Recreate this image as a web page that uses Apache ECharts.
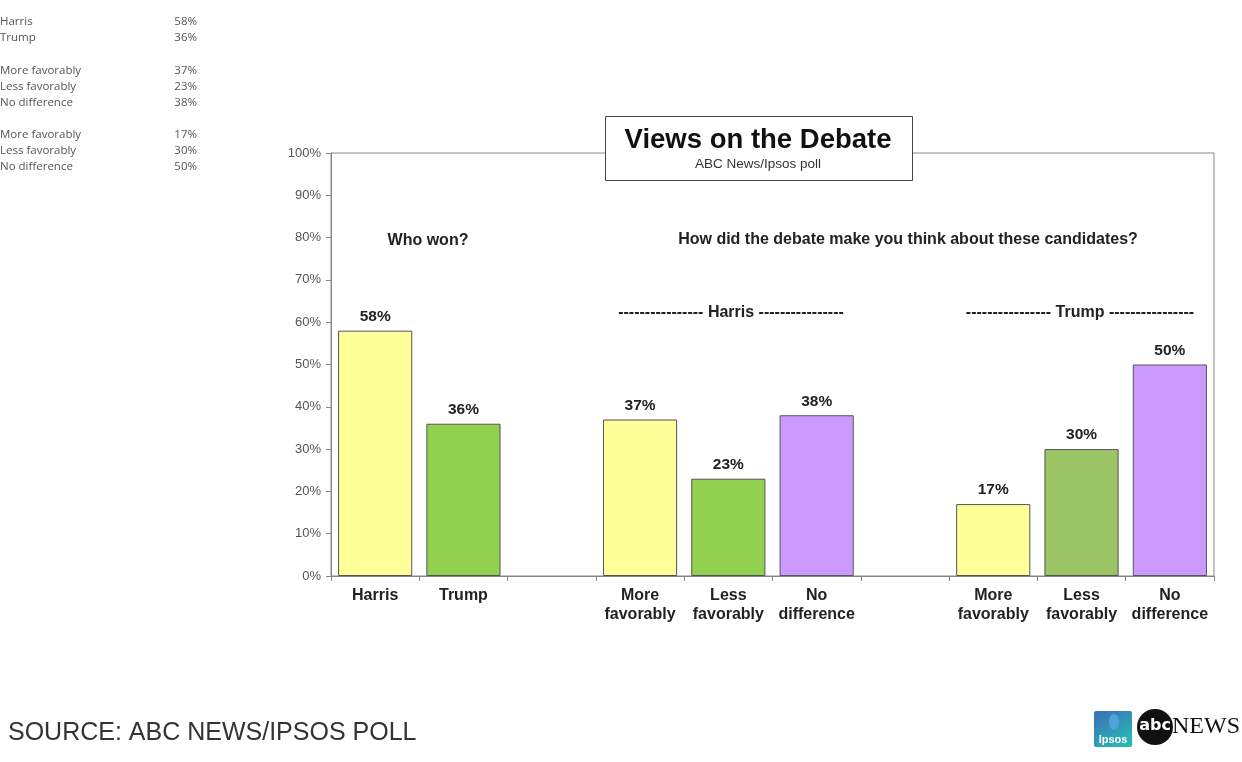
<!DOCTYPE html>
<html><head><meta charset="utf-8">
<script src="https://cdn.jsdelivr.net/npm/echarts@6/dist/echarts.min.js"></script>
<style>html,body{margin:0;padding:0;background:#fff}#c{width:1242px;height:762px}</style>
</head><body><div id="c"></div>
<script>
const categories = ['Harris', 'Trump', '', 'More\nfavorably', 'Less\nfavorably', 'No\ndifference', '', 'More\nfavorably', 'Less\nfavorably', 'No\ndifference'];
const values = [58, 36, null, 37, 23, 38, null, 17, 30, 50];
const barColors = ['#FFFF99', '#92D050', null, '#FFFF99', '#92D050', '#CC99FF', null, '#FFFF99', '#9BC565', '#CC99FF'];
const tableLabels = ['Harris', 'Trump', 'More favorably', 'Less favorably', 'No difference', 'More favorably', 'Less favorably', 'No difference'];
const tableValues = ['58%', '36%', '37%', '23%', '38%', '17%', '30%', '50%'];
const yTicks = [0, 10, 20, 30, 40, 50, 60, 70, 80, 90, 100];

const chart = echarts.init(document.getElementById('c'), null, {renderer: 'canvas'});
const tableY = [22, 38, 71, 87, 103, 135, 151, 167];
const graphics = [];
tableLabels.forEach((t, i) => {
  graphics.push({type: 'text', style: {text: t, x: 0, y: tableY[i], verticalAlign: 'middle', font: '11.5px "Open Sans"', fill: '#555'}});
  graphics.push({type: 'text', style: {text: tableValues[i], x: 197, y: tableY[i], align: 'right', verticalAlign: 'middle', font: '11.5px "Open Sans"', fill: '#555'}});
});
const F = '"Liberation Sans", Arial, sans-serif';
graphics.push(
  {type: 'rect', shape: {x: 605.5, y: 116.5, width: 307, height: 64}, style: {fill: '#fff', stroke: '#444', lineWidth: 1}, z: 100},
  {type: 'text', z: 101, style: {text: 'Views on the Debate', x: 758, y: 140, align: 'center', verticalAlign: 'middle', font: 'bold 27.5px ' + F, fill: '#111'}},
  {type: 'text', z: 101, style: {text: 'ABC News/Ipsos poll', x: 758, y: 164, align: 'center', verticalAlign: 'middle', font: '13.5px ' + F, fill: '#333'}},
  {type: 'text', style: {text: 'Who won?', x: 428, y: 241, align: 'center', verticalAlign: 'middle', font: 'bold 16px ' + F, fill: '#222'}},
  {type: 'text', style: {text: 'How did the debate make you think about these candidates?', x: 908, y: 240, align: 'center', verticalAlign: 'middle', font: 'bold 16px ' + F, fill: '#222'}},
  {type: 'text', style: {text: '---------------- Harris ----------------', x: 731, y: 313, align: 'center', verticalAlign: 'middle', font: 'bold 16px ' + F, fill: '#222'}},
  {type: 'text', style: {text: '---------------- Trump ----------------', x: 1080, y: 313, align: 'center', verticalAlign: 'middle', font: 'bold 16px ' + F, fill: '#222'}},
  {type: 'text', style: {text: 'SOURCE: ABC NEWS/IPSOS POLL', x: 8, y: 733, verticalAlign: 'middle', font: '25px ' + F, fill: '#333'}},
  {type: 'rect', shape: {x: 1094, y: 711, width: 38, height: 36, r: 2}, style: {fill: new echarts.graphic.LinearGradient(0, 0, 0.6, 1, [{offset: 0, color: '#3B6DB8'}, {offset: 1, color: '#2AB5B2'}])}},
  {type: 'ellipse', shape: {cx: 1114, cy: 722, rx: 5, ry: 8}, style: {fill: '#4FA3D8'}},
  {type: 'text', style: {text: 'Ipsos', x: 1113, y: 740, align: 'center', verticalAlign: 'middle', font: 'bold 11px ' + F, fill: '#fff'}},
  {type: 'circle', shape: {cx: 1155, cy: 727, r: 18}, style: {fill: '#111'}},
  {type: 'text', style: {text: 'abc', x: 1155, y: 726, align: 'center', verticalAlign: 'middle', font: 'bold 16px "DejaVu Sans", Arial', fill: '#fff'}},
  {type: 'text', style: {text: 'NEWS', x: 1172, y: 727, verticalAlign: 'middle', font: '24px "Liberation Serif", "DejaVu Serif", serif', fill: '#111'}}
);

chart.setOption({
  animation: false,
  backgroundColor: '#fff',
  grid: {left: 331, right: 28, top: 153, bottom: 186, show: true, borderColor: '#888', borderWidth: 1},
  xAxis: {
    type: 'category', data: categories,
    axisLine: {lineStyle: {color: '#888'}},
    axisTick: {show: true, length: 5, lineStyle: {color: '#888'}},
    axisLabel: {interval: 0, margin: 10, color: '#222', fontWeight: 'bold', fontSize: 16, lineHeight: 19, fontFamily: F}
  },
  yAxis: {
    type: 'value', min: yTicks[0], max: yTicks[yTicks.length - 1], interval: 10,
    axisLine: {show: true, lineStyle: {color: '#888'}},
    axisTick: {show: true, length: 5, lineStyle: {color: '#888'}},
    splitLine: {show: false},
    axisLabel: {formatter: '{value}%', color: '#555', fontSize: 13, margin: 10, fontFamily: F}
  },
  series: [{
    type: 'bar', barCategoryGap: '16%',
    data: values.map((v, i) => ({value: v, itemStyle: {color: barColors[i] || '#fff'}})),
    itemStyle: {borderColor: '#555', borderWidth: 1},
    label: {show: true, position: 'top', distance: 6, formatter: p => p.value == null ? '' : p.value + '%', color: '#222', fontWeight: 'bold', fontSize: 15.5, fontFamily: F}
  }],
  graphic: graphics
});
</script></body></html>
